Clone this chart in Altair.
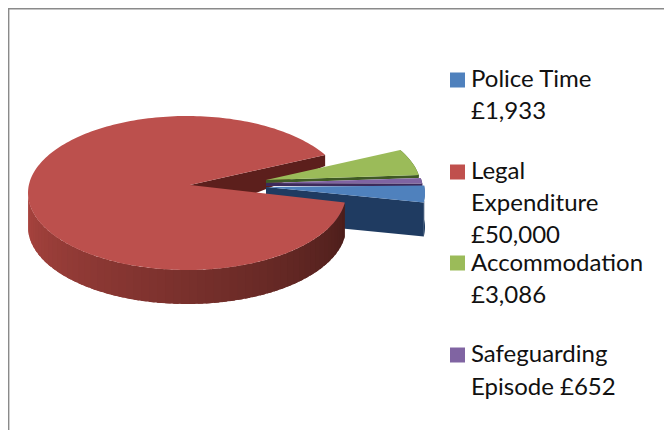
import numpy as np
import pandas as pd
import altair as alt

categories = ["Police Time", "Legal Expenditure", "Accommodation", "Safeguarding Episode"]
values = [1933, 50000, 3086, 652]
top_colors = ["#4F81BD", "#BC504D", "#9BBB59", "#8064A2"]
side_colors = ["#1F3B61", "#5C1F1C", "#3F5A24", "#3C2A5A"]
swatch_colors = ["#4F81BD", "#C0504D", "#9BBB59", "#8064A2"]
legend_lines = [
    ["Police Time", "£1,933"],
    ["Legal", "Expenditure", "£50,000"],
    ["Accommodation", "£3,086"],
    ["Safeguarding", "Episode £652"],
]
legend_y = [80, 172, 263, 355]
line_y = [[80, 112], [172, 204, 235.5], [264, 296], [355, 388]]

W, H = 656, 422
OX, OY = 8, 8            # page margin
RX, RY = 159.0, 77.0     # rim ellipse
DEPTH = 34.0
LEGAL_START = 97.0       # clockwise from 12 o'clock

shares = np.array(values, dtype=float) / sum(values)
edges = np.cumsum(np.r_[0, shares]) * 360.0
offset = LEGAL_START - edges[1]
angles = [(offset + edges[i], offset + edges[i + 1]) for i in range(4)]


def rim(cx, cy, a):
    r = np.radians(a - 90)
    return cx + RX * np.cos(r), cy + RY * np.sin(r)


features = []


def poly(points, fill, name):
    pts = [[float(x - OX), float(y - OY)] for x, y in points]
    pts.append(pts[0])
    features.append({
        "type": "Feature",
        "properties": {"fill": fill, "name": name},
        "geometry": {"type": "Polygon", "coordinates": [pts]},
    })


def arc_points(cx, cy, a0, a1, n):
    return [rim(cx, cy, a) for a in np.linspace(a0, a1, n)]


def mix(c0, c1, t):
    a = np.array([int(c0[i:i + 2], 16) for i in (1, 3, 5)])
    b = np.array([int(c1[i:i + 2], 16) for i in (1, 3, 5)])
    v = (a + (b - a) * t).round().astype(int)
    return "#%02X%02X%02X" % tuple(v)


legal_rim = (187.0, 193.0)
legal_apex = (190.0, 185.0)
small_rim = {0: (266.0, 193.0), 2: (262.0, 188.0), 3: (264.0, 191.0)}
small_apex = {0: (266.0, 187.0), 2: (266.0, 180.0), 3: (266.0, 183.0)}
small_depth = {0: DEPTH, 2: 3.0, 3: 3.0}

# back cut face of the legal slice
a0, a1 = angles[1]
p = rim(*legal_rim, a1)
poly([legal_apex, p, (p[0], p[1] + 11), (legal_apex[0], legal_apex[1] + DEPTH)], side_colors[1], categories[1])

# small slices, back to front
for i in [2, 3, 0]:
    s0, s1 = angles[i]
    cx, cy = small_rim[i]
    ap = small_apex[i]
    d = small_depth[i]
    low = rim(cx, cy, s1)
    poly([ap, (ap[0], ap[1] + d), (low[0], low[1] + d), low], side_colors[i], categories[i])
    rim_pts = arc_points(cx, cy, s0, s1, 12)
    poly(rim_pts + [(x, y + d) for x, y in reversed(rim_pts)], side_colors[i], categories[i])
    poly([ap] + rim_pts, top_colors[i], categories[i])

# legal slice: front wall strips from left to right, then the top face
wall_left = 270.0
steps = np.linspace(wall_left, a0, 60)
for j in range(len(steps) - 1):
    t = (wall_left - steps[j]) / (wall_left - a0)
    c = mix("#A9443F", "#4A1D1A", t)
    q = arc_points(*legal_rim, steps[j], steps[j + 1] - 2.0 if j < len(steps) - 2 else steps[j + 1], 4)
    poly(q + [(x, y + DEPTH) for x, y in reversed(q)], c, categories[1])
poly([legal_apex] + arc_points(*legal_rim, a0, a1, 240), top_colors[1], categories[1])

geo = alt.InlineData(
    values={"type": "FeatureCollection", "features": features},
    format=alt.DataFormat(property="features", type="json"),
)
pie = alt.Chart(geo).mark_geoshape(strokeWidth=0).encode(
    fill=alt.Fill("properties.fill:N", scale=None),
).project(type="identity", scale=1, translate=[0, 0])

line_rows = []
for i, lines in enumerate(legend_lines):
    for k, t in enumerate(lines):
        line_rows.append({"t": t, "y": line_y[i][k] - OY, "x": 471 - OX})
text = alt.Chart(pd.DataFrame(line_rows)).mark_text(
    align="left", baseline="middle", font="Lato", fontSize=24, color="#111111"
).encode(
    x=alt.X("x:Q", scale=None, axis=None),
    y=alt.Y("y:Q", scale=None, axis=None),
    text="t:N",
)
swatch_df = pd.DataFrame({
    "cat": categories,
    "x0": [450 - OX] * 4, "x1": [465 - OX] * 4,
    "y0": [y - 7.5 - OY for y in legend_y], "y1": [y + 7.5 - OY for y in legend_y],
    "c": swatch_colors,
})
swatch = alt.Chart(swatch_df).mark_rect().encode(
    x=alt.X("x0:Q", scale=None, axis=None), x2="x1:Q",
    y=alt.Y("y0:Q", scale=None, axis=None), y2="y1:Q",
    fill=alt.Fill("c:N", scale=None),
)
frame = alt.Chart(pd.DataFrame({"x0": [0.5], "x1": [720.0], "y0": [0.5], "y1": [480.0]})).mark_rect(
    fillOpacity=0, stroke="#8A8A8A", strokeWidth=1.8
).encode(
    x=alt.X("x0:Q", scale=None, axis=None), x2="x1:Q",
    y=alt.Y("y0:Q", scale=None, axis=None), y2="y1:Q",
)

chart = alt.layer(frame, pie, swatch, text).resolve_scale(x="independent", y="independent").properties(
    width=W, height=H, padding=0, background="white",
    autosize=alt.AutoSizeParams(type="none"),
).configure_view(stroke=None)

chart.save("out.html", embed_options={"renderer": "svg", "actions": False})
